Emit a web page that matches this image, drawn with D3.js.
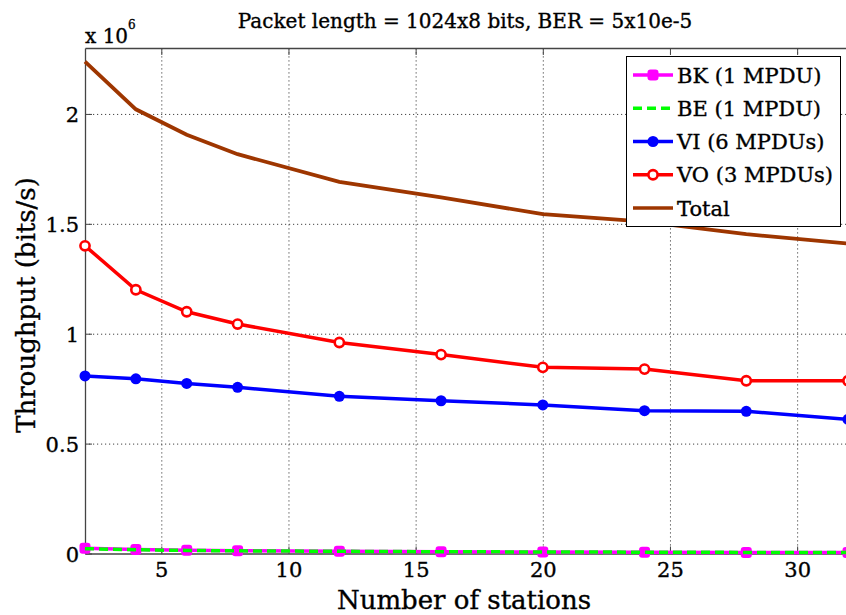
<!DOCTYPE html>
<html><head><meta charset="utf-8">
<script src="https://cdn.jsdelivr.net/npm/d3@7"></script>
<style>
body{margin:0;background:#fff}
svg{display:block}
text{font-family:"DejaVu Serif",serif;fill:#000;stroke:#000;stroke-width:0.35px}
</style>
</head><body>
<svg id="c" width="846" height="615"></svg>
<script>
// Throughput values in units of 10^6 bits/s
const stations = [2, 4, 6, 8, 12, 16, 20, 24, 28, 32];
const bk    = [0.024, 0.018, 0.015, 0.013, 0.010, 0.008, 0.007, 0.006, 0.005, 0.005];
const be    = [0.022, 0.017, 0.014, 0.012, 0.010, 0.008, 0.007, 0.006, 0.005, 0.005];
const vi    = [0.808, 0.795, 0.774, 0.756, 0.715, 0.695, 0.676, 0.650, 0.647, 0.610];
const vo    = [1.400, 1.200, 1.100, 1.044, 0.960, 0.905, 0.847, 0.839, 0.786, 0.786];
const total = [2.238, 2.021, 1.905, 1.817, 1.691, 1.620, 1.544, 1.510, 1.453, 1.410];
const xTicks = [5, 10, 15, 20, 25, 30];
const yTicks = [0, 0.5, 1, 1.5, 2];
const legendLabels = ["BK (1 MPDU)", "BE (1 MPDU)", "VI (6 MPDUs)", "VO (3 MPDUs)", "Total"];
const titleText = "Packet length = 1024x8 bits, BER = 5x10e-5";
const xLabel = "Number of stations";
const yLabel = "Throughput (bits/s)";

const svg = d3.select("#c");
const L = 85, R = 848, T = 48, B = 553.5;
const x = d3.scaleLinear().domain([2, 32]).range([L, R]);
const y = d3.scaleLinear().domain([0, 2.3]).range([B, T]);

// grid
const grid = svg.append("g");
grid.append("g").attr("transform", `translate(0,${B})`)
  .call(d3.axisBottom(x).tickValues(xTicks).tickSize(-(B - T)).tickFormat(""))
  .call(g => g.select(".domain").remove())
  .selectAll("line").attr("stroke", "#444").attr("stroke-width", 1).attr("stroke-dasharray", "1.2,2.8");
grid.append("g").attr("transform", `translate(${L},0)`)
  .call(d3.axisLeft(y).tickValues(yTicks.filter(d => d > 0)).tickSize(-(R - L)).tickFormat(""))
  .call(g => g.select(".domain").remove())
  .selectAll("line").attr("stroke", "#444").attr("stroke-width", 1).attr("stroke-dasharray", "1.2,2.8");

// axes
const xa = svg.append("g").attr("transform", `translate(0,${B})`)
  .call(d3.axisBottom(x).tickValues(xTicks).tickSizeInner(-7).tickSizeOuter(0).tickPadding(9).tickFormat(d => String(d)));
const xt = svg.append("g").attr("transform", `translate(0,${T})`)
  .call(d3.axisTop(x).tickValues(xTicks).tickSizeInner(-7).tickSizeOuter(0).tickFormat(""));
const ya = svg.append("g").attr("transform", `translate(${L},0)`)
  .call(d3.axisLeft(y).tickValues(yTicks).tickSizeInner(-7).tickSizeOuter(0).tickPadding(6).tickFormat(d => String(d)));
[xa, xt, ya].forEach(g => {
  g.select(".domain").attr("stroke", "#444").attr("stroke-width", 1.3);
  g.selectAll(".tick line").attr("stroke", "#444");
  g.selectAll("text").style("font-family", '"DejaVu Serif",serif').style("font-size", "21px").attr("fill", "#000");
});
xa.selectAll("text").attr("dy", "0.71em");
ya.selectAll("text").attr("dy", "0.36em");

const line = d3.line().x((d, i) => x(stations[i])).y(d => y(d));

// BK
svg.append("path").datum(bk).attr("d", line).attr("fill", "none").attr("stroke", "#ff00ff").attr("stroke-width", 3.5);
svg.append("g").selectAll("rect").data(bk).join("rect")
  .attr("x", (d, i) => x(stations[i]) - 5.5).attr("y", d => y(d) - 5.5)
  .attr("width", 11).attr("height", 11).attr("rx", 3).attr("fill", "#ff00ff");
// BE
svg.append("path").datum(be).attr("d", line).attr("fill", "none").attr("stroke", "#00ff00").attr("stroke-width", 3.5).attr("stroke-dasharray", "9,5");
// VI
svg.append("path").datum(vi).attr("d", line).attr("fill", "none").attr("stroke", "#0000ff").attr("stroke-width", 3.5);
svg.append("g").selectAll("circle").data(vi).join("circle")
  .attr("cx", (d, i) => x(stations[i])).attr("cy", d => y(d)).attr("r", 5.5).attr("fill", "#0000ff");
// VO
svg.append("path").datum(vo).attr("d", line).attr("fill", "none").attr("stroke", "#ff0000").attr("stroke-width", 3.5);
svg.append("g").selectAll("circle").data(vo).join("circle")
  .attr("cx", (d, i) => x(stations[i])).attr("cy", d => y(d)).attr("r", 4.6)
  .attr("fill", "#fff").attr("stroke", "#ff0000").attr("stroke-width", 2.6);
// Total
svg.append("path").datum(total).attr("d", line).attr("fill", "none").attr("stroke", "#9e3600").attr("stroke-width", 3.8);

// title & labels
svg.append("text").attr("x", 465).attr("y", 28).attr("text-anchor", "middle").style("font-size", "20px").text(titleText);
const ex = svg.append("text").attr("x", 85).attr("y", 43).style("font-size", "20px");
ex.append("tspan").text("x 10");
ex.append("tspan").attr("dy", -14).style("font-size", "12px").text("6");
svg.append("text").attr("x", 464).attr("y", 609).attr("text-anchor", "middle").style("font-size", "26px").text(xLabel);
svg.append("text").attr("transform", "translate(35,305) rotate(-90)").attr("text-anchor", "middle").style("font-size", "26px").text(yLabel);

// legend
const lg = svg.append("g");
lg.append("rect").attr("x", 626.5).attr("y", 56.5).attr("width", 214).attr("height", 170).attr("fill", "#fff").attr("stroke", "#000").attr("stroke-width", 1);
const colors = ["#ff00ff", "#00ff00", "#0000ff", "#ff0000", "#9e3600"];
const ly = d3.scalePoint().domain(legendLabels).range([75, 208]);
legendLabels.forEach((lab, i) => {
  const cy = ly(lab);
  lg.append("line").attr("x1", 633).attr("x2", 673).attr("y1", cy).attr("y2", cy)
    .attr("stroke", colors[i]).attr("stroke-width", 3.5).attr("stroke-dasharray", i === 1 ? "9,5" : null);
  if (i === 0) lg.append("rect").attr("x", 647.5).attr("y", cy - 5.5).attr("width", 11).attr("height", 11).attr("rx", 3).attr("fill", colors[i]);
  if (i === 2) lg.append("circle").attr("cx", 653).attr("cy", cy).attr("r", 5.5).attr("fill", colors[i]);
  if (i === 3) lg.append("circle").attr("cx", 653).attr("cy", cy).attr("r", 4.6).attr("fill", "#fff").attr("stroke", colors[i]).attr("stroke-width", 2.6);
  lg.append("text").attr("x", 677).attr("y", cy).attr("dy", "0.36em").style("font-size", "21px").text(lab);
});
</script>
</body></html>
